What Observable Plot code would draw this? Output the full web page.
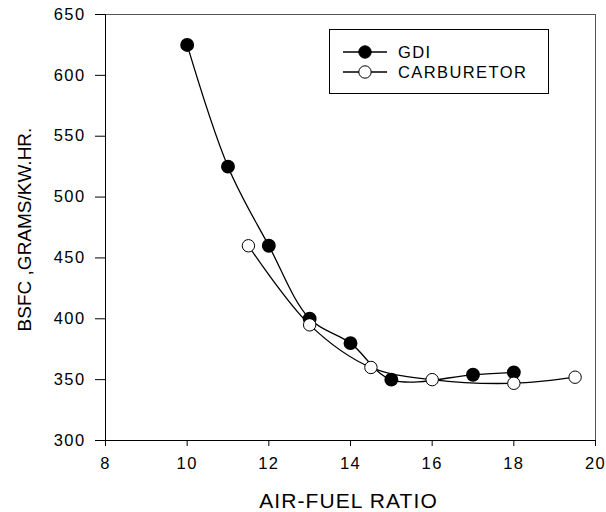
<!DOCTYPE html>
<html>
<head>
<meta charset="utf-8">
<script src="https://cdn.jsdelivr.net/npm/d3@7"></script>
<script src="https://cdn.jsdelivr.net/npm/@observablehq/plot@0.6"></script>
<style>
  html, body { margin: 0; padding: 0; background: #fff; }
  #chart { position: relative; width: 606px; height: 512px; font-family: "Liberation Sans", Arial, sans-serif; }
  #legend { position: absolute; left: 329px; top: 29px; }
  #chart g[aria-label="x-axis tick label"], #chart g[aria-label="y-axis tick label"] { letter-spacing: 1.4px; }
  #chart text.xtitle { letter-spacing: 1.1px; }
  #legend text { letter-spacing: 1.4px; }
</style>
</head>
<body>
<div id="chart"></div>
<script>
// Brake specific fuel consumption vs. air-fuel ratio
const gdiAFR = [10, 11, 12, 13, 14, 15, 17, 18];
const gdiBSFC = [625, 525, 460, 400, 380, 350, 354, 356];
const carbAFR = [11.5, 13, 14.5, 16, 18, 19.5];
const carbBSFC = [460, 395, 360, 350, 347, 352];
const xTicks = [8, 10, 12, 14, 16, 18, 20];
const yTicks = [300, 350, 400, 450, 500, 550, 600, 650];
const seriesNames = ["GDI", "CARBURETOR"];
const xTitle = "AIR-FUEL RATIO";
const yTitle = "BSFC ,GRAMS/KW.HR.";

const gdi = gdiAFR.map((x, i) => ({x, y: gdiBSFC[i]}));
const carb = carbAFR.map((x, i) => ({x, y: carbBSFC[i]}));

const plot = Plot.plot({
  width: 606,
  height: 512,
  marginLeft: 105,
  marginTop: 14,
  marginRight: 11,
  marginBottom: 72,
  style: {fontFamily: "Liberation Sans, Arial, sans-serif", color: "black", background: "white"},
  x: {domain: [8, 20]},
  y: {domain: [300, 650]},
  marks: [
    Plot.frame({stroke: "#555"}),
    Plot.ruleX([xTicks[0]], {stroke: "black"}),
    Plot.ruleY([yTicks[0]], {stroke: "black"}),
    Plot.axisX({ticks: xTicks, tickSize: 6, tickPadding: 11, fontSize: 16.5, label: null}),
    Plot.axisY({ticks: yTicks, tickSize: 10, tickPadding: 10, fontSize: 16.5, label: null}),
    // axis titles
    Plot.text([xTitle], {text: d => d, frameAnchor: "bottom", textAnchor: "middle", lineAnchor: "bottom", dx: -2, dy: 67, fontSize: 21, fill: "black"}),
    Plot.text([yTitle], {text: d => d, frameAnchor: "left", textAnchor: "middle", rotate: -90, lineAnchor: "middle", dx: -81, dy: 2, fontSize: 19, fill: "black"}),
    Plot.line(gdi, {x: "x", y: "y", curve: "catmull-rom", stroke: "black", strokeWidth: 1.3}),
    Plot.line(carb, {x: "x", y: "y", curve: "catmull-rom", stroke: "black", strokeWidth: 1.3}),
    Plot.dot(gdi, {x: "x", y: "y", r: 6.2, fill: "black", stroke: "black"}),
    Plot.dot(carb, {x: "x", y: "y", r: 6.2, fill: "white", stroke: "black", strokeWidth: 1})
  ]
});
plot.querySelectorAll("text").forEach(t => {
  if (t.textContent === xTitle) t.classList.add("xtitle");
});
document.getElementById("chart").appendChild(plot);

// Legend box
const lg = d3.select("#chart").append("svg").attr("id", "legend")
  .attr("width", 220).attr("height", 65);
lg.append("rect").attr("x", 0.5).attr("y", 0.5).attr("width", 219).attr("height", 64)
  .attr("fill", "white").attr("stroke", "black");
seriesNames.forEach((name, i) => {
  const g = lg.append("g").attr("transform", `translate(0,${23 + i * 20})`);
  g.append("line").attr("x1", 14).attr("x2", 58).attr("stroke", "black").attr("stroke-width", 1.3);
  g.append("circle").attr("cx", 36).attr("r", 6.2)
    .attr("fill", i === 0 ? "black" : "white").attr("stroke", "black");
  g.append("text").attr("x", 69).attr("dy", "0.35em").attr("font-size", 16.5)
    .attr("font-family", "Liberation Sans, Arial, sans-serif").text(name);
});
</script>
</body>
</html>
